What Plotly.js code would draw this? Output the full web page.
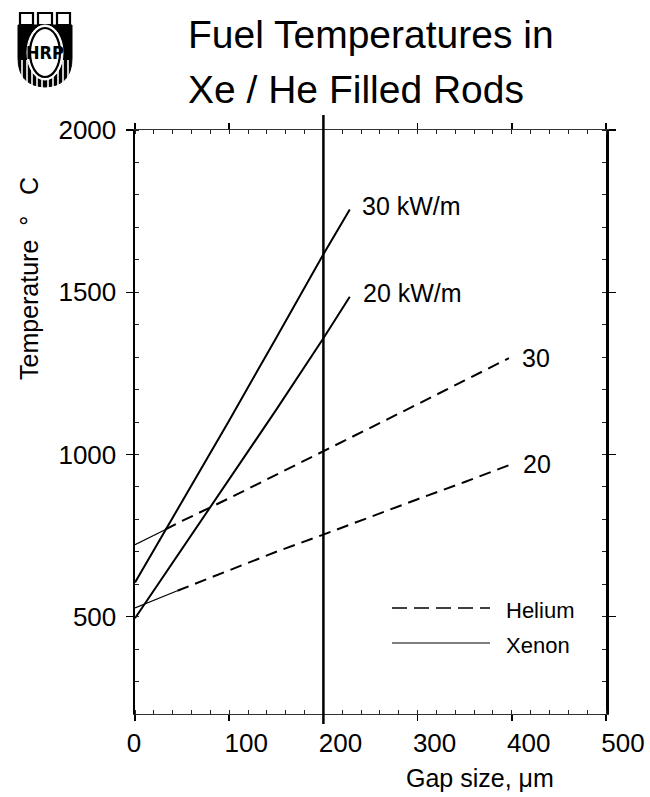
<!DOCTYPE html>
<html>
<head>
<meta charset="utf-8">
<script src="https://cdn.plot.ly/plotly-3.0.1.min.js"></script>
<style>html,body{margin:0;padding:0;background:#fff}</style>
</head>
<body>
<div id="chart" style="width:650px;height:797px"></div>
<script>
// ---- data ----
const gapXe  = [0, 50, 100, 150, 200, 228];          // gap size, µm
const xe30   = [605, 855, 1105, 1360, 1617, 1755];   // Xenon, 30 kW/m, °C
const xe20   = [495, 708, 922, 1138, 1358, 1486];    // Xenon, 20 kW/m, °C
const gapHe30 = [0, 32, 50, 100, 150, 200, 250, 300, 350, 397];
const he30    = [722, 768, 795, 865, 937, 1009, 1082, 1155, 1228, 1297]; // Helium, 30 kW/m
const gapHe20 = [0, 45, 100, 150, 200, 250, 300, 350, 398];
const he20    = [527, 580, 643, 700, 753, 808, 862, 915, 968];             // Helium, 20 kW/m
const refGap = 200;                                   // vertical reference line
const xTickVals = [0, 100, 200, 300, 400, 500];
const xTickText = ["0\u00a0\u00a0\u00a0\u00a0\u00a0", "100", "200", "300", "400", "500"];
const yTickVals = [500, 1000, 1500, 2000];
const yTickText = ["500", "1000", "1500", "2000"];
const seriesLabels = ["30 kW/m", "20 kW/m", "30", "20"];
const legendLabels = ["Helium", "Xenon"];

// ---- layout geometry helpers (pixels -> paper) ----
const L = 135, T = 130, W = 471, H = 584;
const px = x => (x - L) / W;
const py = y => (T + H - y) / H;
const FONT = "Liberation Sans, Arial, Helvetica, sans-serif";

const solid = {color: "#000", width: 2};
const dashed = {color: "#000", width: 2, dash: "12px,7px"};
const thin = {color: "#000", width: 1.2};

const traces = [
  {x: gapXe, y: xe30, mode: "lines", line: solid, name: "Xenon 30 kW/m"},
  {x: gapXe, y: xe20, mode: "lines", line: solid, name: "Xenon 20 kW/m"},
  {x: gapHe30.slice(0, 2), y: he30.slice(0, 2), mode: "lines", line: thin, name: "Helium 30 kW/m"},
  {x: gapHe30.slice(1), y: he30.slice(1), mode: "lines", line: dashed, name: "Helium 30 kW/m"},
  {x: gapHe20.slice(0, 2), y: he20.slice(0, 2), mode: "lines", line: thin, name: "Helium 20 kW/m"},
  {x: gapHe20.slice(1), y: he20.slice(1), mode: "lines", line: dashed, name: "Helium 20 kW/m"}
];

function path(pts) {
  return pts.map((p, i) => {
    if (p === "Z") return "Z";
    if (p[0] === "Q") return "Q" + px(p[1]) + "," + py(p[2]) + " " + px(p[3]) + "," + py(p[4]);
    return (i === 0 ? "M" : "L") + px(p[0]) + "," + py(p[1]);
  }).join(" ");
}

const shapes = [
  // vertical reference line at 200 µm
  {type: "line", xref: "x", yref: "paper", x0: refGap, x1: refGap, y0: py(724), y1: py(115),
   line: {color: "#000", width: 2.5}},
  // legend samples
  {type: "line", xref: "paper", yref: "paper", x0: px(392), x1: px(490), y0: py(608), y1: py(608),
   line: {color: "#000", width: 1.3, dash: "15px,7px"}},
  {type: "line", xref: "paper", yref: "paper", x0: px(392), x1: px(490), y0: py(643), y1: py(643),
   line: {color: "#000", width: 1.1}},
  // logo: shield
  {type: "path", xref: "paper", yref: "paper",
   path: path([[18, 25], [72, 25], [72, 58], ["Q", 72, 86, 45, 87], ["Q", 18, 86, 18, 58], "Z"]),
   fillcolor: "#000", line: {color: "#000", width: 1}},
];
// logo stripes
[22, 27, 32, 37, 42, 48, 53, 58, 63, 68].forEach(x => {
  shapes.push({type: "line", xref: "paper", yref: "paper", x0: px(x), x1: px(x), y0: py(60), y1: py(90),
    line: {color: "#fff", width: 1.6}});
});
// logo battlements
[[20, 33], [38, 52], [57, 70]].forEach(b => {
  shapes.push({type: "rect", xref: "paper", yref: "paper", x0: px(b[0]), x1: px(b[1]), y0: py(25), y1: py(13),
    fillcolor: "#fff", line: {color: "#000", width: 2.2}});
});
// logo oval
shapes.push({type: "circle", xref: "paper", yref: "paper", x0: px(27), x1: px(63), y0: py(80), y1: py(25),
  fillcolor: "#fff", line: {color: "#fff", width: 1}});
shapes.push({type: "circle", xref: "paper", yref: "paper", x0: px(30), x1: px(60), y0: py(77), y1: py(28),
  line: {color: "#000", width: 2.2}});

const ann = (o) => Object.assign({showarrow: false, font: {family: FONT, size: 25, color: "#000"}}, o);

const annotations = [
  ann({xref: "paper", yref: "paper", x: px(186), y: py(35), xanchor: "left", yanchor: "middle",
       text: "Fuel Temperatures in", font: {family: FONT, size: 39, color: "#000"}}),
  ann({xref: "paper", yref: "paper", x: px(186), y: py(89), xanchor: "left", yanchor: "middle",
       text: "Xe / He Filled Rods", font: {family: FONT, size: 39, color: "#000"}}),
  ann({xref: "paper", yref: "paper", x: px(45), y: py(52), xanchor: "center", yanchor: "middle",
       text: "<b>HRP</b>", font: {family: "DejaVu Sans Condensed, DejaVu Sans, sans-serif", size: 18, color: "#000"}}),
  ann({xref: "paper", yref: "paper", x: px(480), y: py(778), xanchor: "center", yanchor: "middle",
       text: "Gap size, \u03bcm"}),
  ann({xref: "paper", yref: "paper", x: px(29), y: py(279), xanchor: "center", yanchor: "middle",
       textangle: -90, text: "Temperature\u00a0\u00a0\u00b0\u00a0\u00a0\u00a0C"}),
  ann({x: gapXe[gapXe.length - 1], y: xe30[xe30.length - 1], xanchor: "left", yanchor: "middle",
       xshift: 10, yshift: 3, text: seriesLabels[0]}),
  ann({x: gapXe[gapXe.length - 1], y: xe20[xe20.length - 1], xanchor: "left", yanchor: "middle",
       xshift: 11, yshift: 4, text: seriesLabels[1]}),
  ann({x: gapHe30[gapHe30.length - 1], y: he30[he30.length - 1], xanchor: "left", yanchor: "middle",
       xshift: 11, yshift: 0, text: seriesLabels[2]}),
  ann({x: gapHe20[gapHe20.length - 1], y: he20[he20.length - 1], xanchor: "left", yanchor: "middle",
       xshift: 11, yshift: 1, text: seriesLabels[3]}),
  ann({xref: "paper", yref: "paper", x: px(504), y: py(610), xanchor: "left", yanchor: "middle",
       text: legendLabels[0], font: {family: FONT, size: 22, color: "#000"}}),
  ann({xref: "paper", yref: "paper", x: px(504), y: py(645), xanchor: "left", yanchor: "middle",
       text: legendLabels[1], font: {family: FONT, size: 22, color: "#000"}})
];

const layout = {
  width: 650, height: 797,
  margin: {l: L, r: 650 - L - W, t: T, b: 797 - T - H, pad: 0},
  paper_bgcolor: "#fff", plot_bgcolor: "#fff",
  showlegend: false,
  xaxis: {
    range: [0, 500], tickmode: "array", tickvals: xTickVals, ticktext: xTickText,
    ticks: "outside", ticklen: 6, tickwidth: 1.5, tickcolor: "#000",
    showline: true, linecolor: "#333", linewidth: 1, mirror: "allticks",
    showgrid: false, zeroline: false, ticklabelshift: 17,
    minor: {dtick: 20, tick0: 0, ticks: "inside", ticklen: 4, tickwidth: 1, tickcolor: "#222", showgrid: false},
    tickfont: {family: FONT, size: 26, color: "#000"}
  },
  yaxis: {
    range: [200, 2000], tickmode: "array", tickvals: yTickVals, ticktext: yTickText,
    ticks: "outside", ticklen: 7, tickwidth: 1.2, tickcolor: "#000",
    showline: true, linecolor: "#000", linewidth: 2.5, mirror: "allticks",
    showgrid: false, zeroline: false, ticklabelstandoff: 4,
    minor: {dtick: 100, tick0: 0, ticks: "inside", ticklen: 4, tickwidth: 1, tickcolor: "#222", showgrid: false},
    tickfont: {family: FONT, size: 26, color: "#000"}
  },
  shapes: shapes,
  annotations: annotations
};

Plotly.newPlot("chart", traces, layout, {displayModeBar: false, staticPlot: true});
</script>
</body>
</html>
